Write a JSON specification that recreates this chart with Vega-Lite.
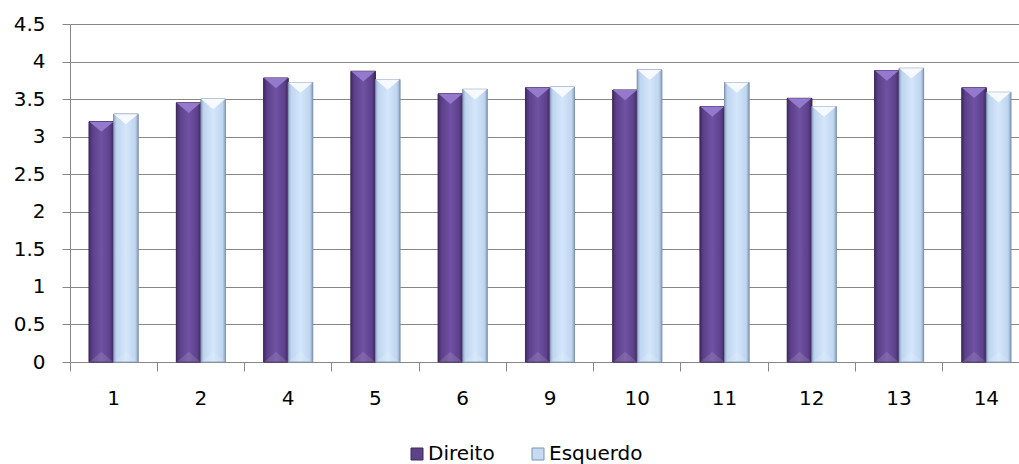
{
  "$schema": "https://vega.github.io/schema/vega-lite/v6.json",
  "autosize": {"type": "none"},
  "padding": {"left": 70, "top": 24, "right": 0, "bottom": 102},
  "width": 949,
  "height": 338,
  "background": "white",
  "config": {
    "font": "DejaVu Sans",
    "view": {"stroke": null},
    "axis": {"labelFont": "DejaVu Sans", "labelColor": "#000000", "labelFontSize": 20, "title": null}
  },
  "data": {
    "values": [
      {"grupo": 1, "lado": "Direito", "valor": 3.2},
      {"grupo": 1, "lado": "Esquerdo", "valor": 3.3},
      {"grupo": 2, "lado": "Direito", "valor": 3.45},
      {"grupo": 2, "lado": "Esquerdo", "valor": 3.5},
      {"grupo": 4, "lado": "Direito", "valor": 3.78},
      {"grupo": 4, "lado": "Esquerdo", "valor": 3.72},
      {"grupo": 5, "lado": "Direito", "valor": 3.87},
      {"grupo": 5, "lado": "Esquerdo", "valor": 3.76},
      {"grupo": 6, "lado": "Direito", "valor": 3.57},
      {"grupo": 6, "lado": "Esquerdo", "valor": 3.63},
      {"grupo": 9, "lado": "Direito", "valor": 3.65},
      {"grupo": 9, "lado": "Esquerdo", "valor": 3.66},
      {"grupo": 10, "lado": "Direito", "valor": 3.62},
      {"grupo": 10, "lado": "Esquerdo", "valor": 3.89},
      {"grupo": 11, "lado": "Direito", "valor": 3.4},
      {"grupo": 11, "lado": "Esquerdo", "valor": 3.72},
      {"grupo": 12, "lado": "Direito", "valor": 3.51},
      {"grupo": 12, "lado": "Esquerdo", "valor": 3.4},
      {"grupo": 13, "lado": "Direito", "valor": 3.88},
      {"grupo": 13, "lado": "Esquerdo", "valor": 3.91},
      {"grupo": 14, "lado": "Direito", "valor": 3.65},
      {"grupo": 14, "lado": "Esquerdo", "valor": 3.59}
    ]
  },
  "encoding": {
    "x": {
      "field": "grupo",
      "type": "ordinal",
      "scale": {"range": [0, 960], "paddingInner": 0, "paddingOuter": 0},
      "axis": {
        "labelAngle": 0,
        "grid": false,
        "domainColor": "#868686",
        "domainWidth": 1,
        "tickColor": "#868686",
        "tickSize": 9,
        "bandPosition": 0,
        "labelPadding": 17
      }
    },
    "xOffset": {
      "field": "lado",
      "type": "nominal",
      "scale": {"domain": ["Direito", "Esquerdo"], "paddingInner": 0, "paddingOuter": 0.78}
    },
    "y": {
      "field": "valor",
      "type": "quantitative",
      "scale": {"domain": [0, 4.5], "nice": false, "zero": true},
      "axis": {
        "values": [0, 0.5, 1, 1.5, 2, 2.5, 3, 3.5, 4, 4.5],
        "labelExpr": "'' + datum.value",
        "grid": true,
        "gridColor": "#868686",
        "gridWidth": 1,
        "domainColor": "#868686",
        "tickColor": "#868686",
        "tickSize": 8,
        "labelPadding": 17
      }
    }
  },
  "layer": [
    {
      "mark": {"type": "bar", "strokeWidth": 0.8},
      "encoding": {
        "color": {
          "field": "lado",
          "type": "nominal",
          "scale": {"domain": ["Direito", "Esquerdo"], "range": ["#5e4289", "#c6dbf3"]},
          "legend": {
            "title": null,
            "orient": "none",
            "direction": "horizontal",
            "legendX": 337,
            "legendY": 420,
            "symbolType": "square",
            "symbolSize": 144,
            "symbolStrokeWidth": 1,
            "symbolOpacity": 1,
            "labelFont": "DejaVu Sans",
            "labelFontSize": 20,
            "labelColor": "#000000",
            "labelOffset": 1,
            "columnPadding": 33
          }
        },
        "stroke": {
          "field": "lado",
          "type": "nominal",
          "scale": {"domain": ["Direito", "Esquerdo"], "range": ["#3c2859", "#7f94ae"]},
          "legend": null
        }
      }
    },
    {
      "transform": [{"filter": "datum.lado === 'Direito'"}],
      "mark": {
        "type": "bar",
        "stroke": "#3c2859",
        "strokeWidth": 0.8,
        "fill": {
          "gradient": "linear", "x1": 0, "y1": 0, "x2": 1, "y2": 0,
          "stops": [
            {"offset": 0, "color": "#432c68"},
            {"offset": 0.15, "color": "#5d418b"},
            {"offset": 0.5, "color": "#6f52a3"},
            {"offset": 0.85, "color": "#5d418b"},
            {"offset": 1, "color": "#3c285c"}
          ]
        }
      },
      "encoding": {}
    },
    {
      "transform": [{"filter": "datum.lado === 'Esquerdo'"}],
      "mark": {
        "type": "bar",
        "stroke": "#7f94ae",
        "strokeWidth": 0.8,
        "fill": {
          "gradient": "linear", "x1": 0, "y1": 0, "x2": 1, "y2": 0,
          "stops": [
            {"offset": 0, "color": "#95aac6"},
            {"offset": 0.12, "color": "#c0d5ef"},
            {"offset": 0.5, "color": "#d3e6fb"},
            {"offset": 0.88, "color": "#c0d5ef"},
            {"offset": 1, "color": "#8ca1bd"}
          ]
        }
      },
      "encoding": {}
    },
    {
      "transform": [{"filter": "datum.lado === 'Direito'"}],
      "mark": {
        "type": "point",
        "filled": true,
        "shape": "M-1,0L1,0L0,0.85Z",
        "size": 576,
        "fill": "#9479cc",
        "opacity": 1,
        "strokeWidth": 0
      },
      "encoding": {}
    },
    {
      "transform": [{"filter": "datum.lado === 'Esquerdo'"}],
      "mark": {
        "type": "point",
        "filled": true,
        "shape": "M-1,0L1,0L0,0.85Z",
        "size": 576,
        "fill": "#f6faff",
        "opacity": 1,
        "strokeWidth": 0
      },
      "encoding": {}
    },
    {
      "mark": {
        "type": "point",
        "filled": true,
        "shape": "M-1,0L1,0L0,-0.85Z",
        "size": 576,
        "fill": "#ffffff",
        "opacity": 0.12,
        "strokeWidth": 0
      },
      "encoding": {"y": {"datum": 0}}
    }
  ]
}
